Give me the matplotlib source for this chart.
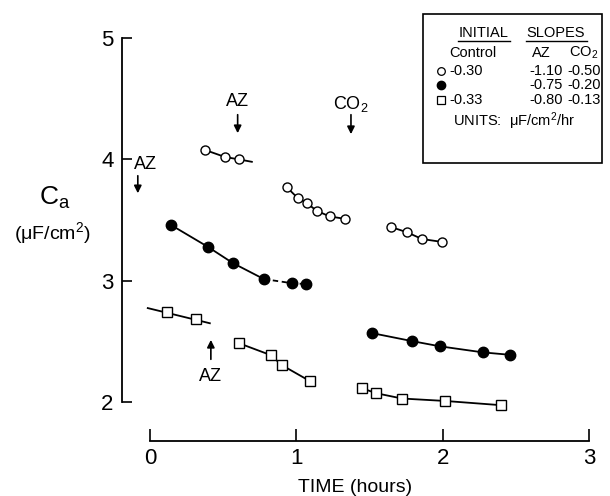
"""
Ca vs time with AZ / CO2 additions — recreation of the old journal figure
"""
import matplotlib
matplotlib.use("Agg")
import matplotlib.pyplot as plt
from matplotlib.patches import Rectangle
from matplotlib.lines import Line2D

plt.rcParams['font.family'] = ['Liberation Sans', 'DejaVu Sans']
plt.rcParams['mathtext.fontset'] = 'custom'
plt.rcParams['mathtext.rm'] = 'Liberation Sans'
plt.rcParams['mathtext.it'] = 'Liberation Sans:italic'
plt.rcParams['mathtext.default'] = 'regular'

# ─── data ─────────────────────────────────────────
# open circles
oc1_x = [0.376, 0.513, 0.608]
oc1_y = [4.078, 4.020, 4.000]
oc1_fit_x = [0.608, 0.697]
oc1_fit_y = [4.000, 3.980]

oc2_x = [0.936, 1.012, 1.073, 1.141, 1.230, 1.333]
oc2_y = [3.770, 3.680, 3.640, 3.575, 3.530, 3.510]

oc3_x = [1.647, 1.756, 1.859, 1.996]
oc3_y = [3.443, 3.400, 3.344, 3.320]

# filled circles
fc1_x = [0.144, 0.396, 0.567, 0.779, 0.971, 1.066]
fc1_y = [3.460, 3.280, 3.146, 3.014, 2.980, 2.973]

fc2_x = [1.517, 1.791, 1.982, 2.276, 2.461]
fc2_y = [2.569, 2.503, 2.460, 2.410, 2.390]

# squares
sq1_x = [0.116, 0.314]
sq1_y = [2.742, 2.684]
sq1_fit_x = [-0.014, 0.410]
sq1_fit_y = [2.775, 2.650]

sq2_x = [0.608, 0.827, 0.902, 1.094]
sq2_y = [2.486, 2.387, 2.305, 2.173]

sq3_x = [1.449, 1.545, 1.722, 2.016, 2.399]
sq3_y = [2.115, 2.074, 2.030, 2.010, 1.975]

# initial slopes table
slope_rows = ['o', 'filled', 's']
slope_control = ['-0.30', '', '-0.33']
slope_az = ['-1.10', '-0.75', '-0.80']
slope_co2 = ['-0.50', '-0.20', '-0.13']

# ─── figure ───────────────────────────────────────
W, H = 610, 496
fig = plt.figure(figsize=(W / 100, H / 100), dpi=100)
fig.patch.set_facecolor('white')
ax = fig.add_axes([122 / W, 1 - 441 / H, (589 - 122) / W, (441 - 38) / H])
ax.set_xlim(-0.19, 3.0)
ax.set_ylim(1.68, 5.0)


def fx(px):
    return px / W


def fy(py):
    return 1 - py / H


LW = 1.3
open_kw = dict(marker='o', ms=6.5, mfc='white', mec='black', mew=1.0, ls='none', zorder=5)
fill_kw = dict(marker='o', ms=7.5, mfc='black', mec='black', ls='none', zorder=5)
sq_kw = dict(marker='s', ms=7, mfc='white', mec='black', mew=1.0, ls='none', zorder=5)

# lines
for xs, ys in [(oc1_x, oc1_y), (oc1_fit_x, oc1_fit_y), (oc2_x, oc2_y), (oc3_x, oc3_y),
               (fc1_x[:4], fc1_y[:4]), (fc2_x, fc2_y),
               (sq1_fit_x, sq1_fit_y), (sq2_x, sq2_y), (sq3_x, sq3_y)]:
    ax.plot(xs, ys, color='black', lw=LW, zorder=2)
ax.plot(fc1_x[3:], fc1_y[3:], color='black', lw=LW, ls=(0, (3, 2)), zorder=2)

# markers
for xs, ys in [(oc1_x, oc1_y), (oc2_x, oc2_y), (oc3_x, oc3_y)]:
    ax.plot(xs, ys, **open_kw)
for xs, ys in [(fc1_x, fc1_y), (fc2_x, fc2_y)]:
    ax.plot(xs, ys, **fill_kw)
for xs, ys in [(sq1_x, sq1_y), (sq2_x, sq2_y), (sq3_x, sq3_y)]:
    ax.plot(xs, ys, **sq_kw)

# ─── axes styling (detached x axis) ───────────────
for s in ['top', 'right']:
    ax.spines[s].set_visible(False)
ax.spines['left'].set_bounds(2, 5)
ax.spines['bottom'].set_bounds(0, 3)
ax.spines['left'].set_linewidth(1.3)
ax.spines['bottom'].set_linewidth(1.3)
ax.set_xticks([0, 1, 2, 3])
ax.set_yticks([2, 3, 4, 5])
ax.tick_params(axis='y', direction='in', length=7, width=1.2, pad=6, labelsize=16)
ax.tick_params(axis='x', direction='in', length=9, width=1.2, pad=5, labelsize=16)
ax.set_xlabel('TIME (hours)', fontsize=14, labelpad=7)

fig.text(fx(55), fy(198), 'C$_a$', fontsize=19, ha='center', va='center')
fig.text(fx(52), fy(233), '(μF/cm$^2$)', fontsize=14, ha='center', va='center')

# ─── event arrows ─────────────────────────────────
arr = dict(arrowstyle='-|>', color='black', lw=1.2, mutation_scale=11)
ax.annotate('', xy=(-0.082, 3.698), xytext=(-0.082, 3.888), arrowprops=arr)
ax.text(-0.11, 3.954, 'AZ', fontsize=13, ha='left', va='center')
ax.annotate('', xy=(0.60, 4.193), xytext=(0.60, 4.391), arrowprops=arr)
ax.text(0.60, 4.473, 'AZ', fontsize=13, ha='center', va='center')
ax.annotate('', xy=(1.374, 4.185), xytext=(1.374, 4.391), arrowprops=arr)
ax.text(1.374, 4.457, 'CO$_2$', fontsize=13, ha='center', va='center')
ax.annotate('', xy=(0.417, 2.536), xytext=(0.417, 2.33), arrowprops=arr)
ax.text(0.417, 2.214, 'AZ', fontsize=13, ha='center', va='center')

# ─── slopes box ───────────────────────────────────
fig.add_artist(Rectangle((fx(423), fy(163)), fx(602) - fx(423), fy(14) - fy(163),
                         transform=fig.transFigure, fill=False, ec='black', lw=1.2))
fs = 10.5
fig.text(fx(484), fy(33), 'INITIAL', fontsize=fs, ha='center', va='center')
fig.text(fx(556), fy(33), 'SLOPES', fontsize=fs, ha='center', va='center')
for x0, x1 in [(458, 510), (526, 587)]:
    fig.add_artist(Line2D([fx(x0), fx(x1)], [fy(41), fy(41)], transform=fig.transFigure,
                          color='black', lw=1.0))
fig.text(fx(473), fy(53), 'Control', fontsize=fs, ha='center', va='center')
fig.text(fx(541), fy(53), 'AZ', fontsize=fs, ha='center', va='center')
fig.text(fx(584), fy(53), 'CO$_2$', fontsize=fs, ha='center', va='center')
row_y = [71, 85, 100]
for i, mk in enumerate(slope_rows):
    if mk == 'filled':
        kw = dict(marker='o', ms=6, mfc='black', mec='black')
    elif mk == 'o':
        kw = dict(marker='o', ms=5.5, mfc='white', mec='black', mew=0.9)
    else:
        kw = dict(marker='s', ms=5.5, mfc='white', mec='black', mew=0.9)
    fig.add_artist(Line2D([fx(441)], [fy(row_y[i])], transform=fig.transFigure, ls='none', **kw))
    fig.text(fx(449), fy(row_y[i]), slope_control[i], fontsize=fs, ha='left', va='center')
    fig.text(fx(563), fy(row_y[i]), slope_az[i], fontsize=fs, ha='right', va='center')
    fig.text(fx(601), fy(row_y[i]), slope_co2[i], fontsize=fs, ha='right', va='center')
fig.text(fx(453), fy(121), 'UNITS:  $\\mu$F/cm$^2$/hr', fontsize=fs, ha='left', va='center')

plt.savefig('out.png', dpi=100, facecolor='white')
plt.close()
